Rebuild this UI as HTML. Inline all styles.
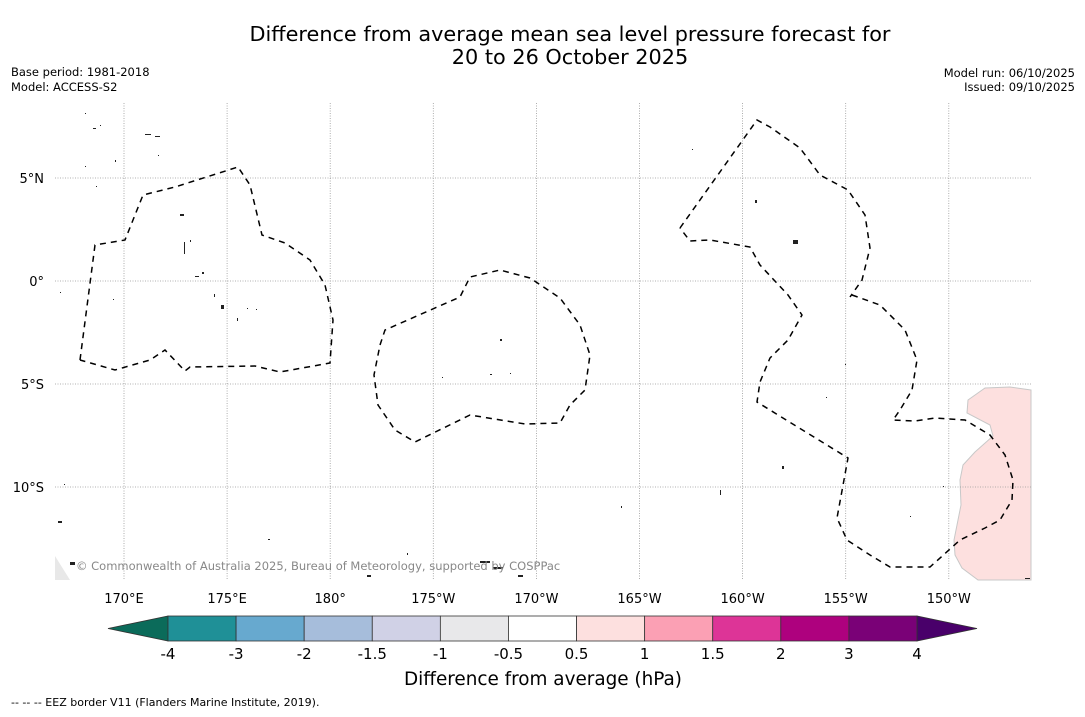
<!DOCTYPE html>
<html><head><meta charset="utf-8"><style>
body{margin:0;background:#fff;width:1085px;height:713px;overflow:hidden;font-family:"DejaVu Sans","Liberation Sans",sans-serif;}
</style></head><body>
<svg id="svg" width="1085" height="713" xmlns="http://www.w3.org/2000/svg" font-family="DejaVu Sans, Liberation Sans, sans-serif">
<text x="570" y="41" font-size="20.8" text-anchor="middle">Difference from average mean sea level pressure forecast for</text>
<text x="570" y="64" font-size="20.8" text-anchor="middle">20 to 26 October 2025</text>
<text x="11" y="76" font-size="11.5">Base period: 1981-2018</text>
<text x="11" y="91" font-size="11.5">Model: ACCESS-S2</text>
<text x="1075" y="77" font-size="11.5" text-anchor="end">Model run: 06/10/2025</text>
<text x="1075" y="91" font-size="11.5" text-anchor="end">Issued: 09/10/2025</text>
<g id="map">
<polygon fill="#fde0df" stroke="#c8c8c8" stroke-width="1" points="1031,390 1010,387 985,388 968,400 967,413 990,425 993,436 975,452 963,465 960,480 961,505 954,540 955,555 962,568 978,580 1031,580"/>
<polygon fill="#e8e8e8" points="55,556 55,580 70,580"/>
<g id="grid"></g>
<g fill="none" stroke="#000" stroke-width="1.5" stroke-dasharray="6,5">
<polyline points="80,360 95,245 125,240 143,195 175,187 238,167 250,185 262,235 285,243 310,260 325,285 333,320 330,363 280,372 255,366 190,367 185,371 165,350 150,360 115,370 80,360"/>
<polyline points="380,345 385,330 460,297 470,277 500,270 530,278 560,298 580,325 590,355 585,390 570,405 560,423 525,424 470,415 415,442 395,430 378,405 374,375 380,345"/>
<polyline points="680,228 757,120 770,127 800,148 820,175 848,190 865,215 870,248 862,280 850,297"/>
<polyline points="852,295 880,305 905,330 917,360 912,390 900,410 893,420 915,421 935,418 965,420 990,435 1005,455 1013,480 1012,500 1000,520 985,528 960,540 930,567 890,567 870,555 847,540 837,518 848,458 757,402 760,382 770,358 788,340 802,315 788,295 760,265 750,247 710,240 690,241 680,228"/>
</g>
<g fill="#222">
<rect x="85" y="113" width="1" height="1"/><rect x="93" y="128" width="3" height="1"/><rect x="100" y="125" width="1" height="1"/><rect x="145" y="134" width="6" height="1"/><rect x="155" y="136" width="5" height="1"/><rect x="158" y="155" width="1" height="1"/><rect x="115" y="160" width="1" height="2"/><rect x="85" y="166" width="1" height="1"/><rect x="96" y="186" width="1" height="1"/><rect x="180" y="214" width="4" height="2"/><rect x="184" y="242" width="1" height="12"/><rect x="190" y="240" width="1" height="2"/><rect x="195" y="276" width="4" height="1"/><rect x="202" y="272" width="2" height="2"/><rect x="214" y="294" width="1" height="3"/><rect x="221" y="305" width="3" height="4"/><rect x="237" y="318" width="1" height="3"/><rect x="247" y="308" width="1" height="1"/><rect x="256" y="309" width="1" height="1"/><rect x="60" y="292" width="1" height="1"/><rect x="113" y="299" width="1" height="1"/><rect x="500" y="339" width="2" height="2"/><rect x="490" y="374" width="2" height="1"/><rect x="510" y="373" width="1" height="1"/><rect x="442" y="377" width="1" height="1"/><rect x="755" y="200" width="2" height="3"/><rect x="793" y="240" width="5" height="4"/><rect x="692" y="149" width="1" height="1"/><rect x="782" y="466" width="2" height="3"/><rect x="720" y="490" width="1" height="5"/><rect x="845" y="364" width="1" height="1"/><rect x="826" y="397" width="1" height="1"/><rect x="58" y="521" width="4" height="2"/><rect x="64" y="484" width="1" height="1"/><rect x="268" y="539" width="2" height="1"/><rect x="480" y="561" width="10" height="2"/><rect x="493" y="567" width="10" height="2"/><rect x="518" y="575" width="5" height="2"/><rect x="70" y="562" width="5" height="3"/><rect x="367" y="575" width="4" height="2"/><rect x="407" y="553" width="1" height="2"/><rect x="621" y="506" width="1" height="2"/><rect x="943" y="486" width="1" height="1"/><rect x="910" y="516" width="1" height="1"/><rect x="1025" y="578" width="5" height="1"/>
</g>
<text x="76" y="570" font-size="11.5" fill="#888">© Commonwealth of Australia 2025, Bureau of Meteorology, supported by COSPPac</text>
</g>
<g id="axes"></g>
<g id="cbar"></g>
<text x="543" y="685" font-size="18.4" text-anchor="middle">Difference from average (hPa)</text>
<text x="11" y="706" font-size="11">--  --  -- EEZ border V11 (Flanders Marine Institute, 2019).</text>
</svg>
<script>
const lonTicks=[170,175,180,185,190,195,200,205,210];
const lonLabels=["170°E","175°E","180°","175°W","170°W","165°W","160°W","155°W","150°W"];
const latTicks=[5,0,-5,-10];
const latLabels=["5°N","0°","5°S","10°S"];
const cbColors=["#1f9097","#67a9cf","#a6bddb","#d0d1e6","#e8e8ea","#ffffff","#fde0df","#fba0b4","#dd3497","#ae017e","#7a0177"];
const cbTicks=["-4","-3","-2","-1.5","-1","-0.5","0.5","1","1.5","2","3","4"];
const cbUnder="#0b6b5a", cbOver="#49006a";
const NS="http://www.w3.org/2000/svg";
const mx0=55,mx1=1031,my0=103,my1=580;
const xLon=l=>124+(l-170)*20.62;
const yLat=l=>281-l*20.6;
function mk(t,a,p){const e=document.createElementNS(NS,t);for(const k in a)e.setAttribute(k,a[k]);p.appendChild(e);return e;}
const grid=document.getElementById('grid'),axes=document.getElementById('axes'),cb=document.getElementById('cbar');
lonTicks.forEach((l,i)=>{const x=xLon(l);
 const ln=mk('line',{x1:x,x2:x,y1:my0,y2:my1,stroke:'#999','stroke-width':0.8,'stroke-dasharray':'1,1.5'},grid);
 
 
 const t=mk('text',{x:x,y:603,'font-size':13,'text-anchor':'middle'},axes);t.textContent=lonLabels[i];
 
 });
latTicks.forEach((l,i)=>{const y=yLat(l);
 const ln=mk('line',{x1:mx0,x2:mx1,y1:y,y2:y,stroke:'#999','stroke-width':0.8,'stroke-dasharray':'1,1.5'},grid);
 
 
 const t=mk('text',{x:44,y:y+5,'font-size':13,'text-anchor':'end'},axes);t.textContent=latLabels[i];
 
 });
const cx0=168,cx1=917,cy0=616,cy1=641,w=(cx1-cx0)/cbColors.length;
const ua=mk('polygon',{points:`108,${(cy0+cy1)/2} ${cx0},${cy0} ${cx0},${cy1}`,fill:cbUnder,stroke:'#333','stroke-width':0.8},cb);


const oa=mk('polygon',{points:`977,${(cy0+cy1)/2} ${cx1},${cy0} ${cx1},${cy1}`,fill:cbOver,stroke:'#333','stroke-width':0.8},cb);


cbColors.forEach((c,i)=>{const r=mk('rect',{x:cx0+i*w,y:cy0,width:w,height:cy1-cy0,fill:c,stroke:'#333','stroke-width':0.8},cb);
 
 });
cbTicks.forEach((s,i)=>{const t=mk('text',{x:cx0+i*w,y:659,'font-size':15,'text-anchor':'middle'},cb);t.textContent=s;
 
 });
</script>
</body></html>
